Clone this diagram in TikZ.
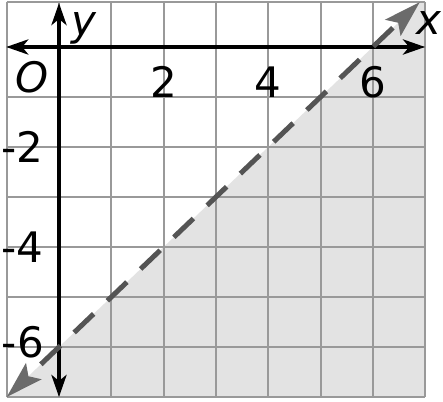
\documentclass[tikz,border=0pt]{standalone}
\usepackage{fontspec}
\setmainfont{DejaVu Sans}
\usetikzlibrary{arrows.meta}
\begin{document}
\begin{tikzpicture}[x=26.15pt,y=25pt,
  gridline/.style={draw=black!40,line width=1pt},
  shade/.style={fill=black!11},
  axisline/.style={line width=2pt,{Stealth[length=11pt,width=7.5pt,inset=3pt]}-{Stealth[length=11pt,width=7.5pt,inset=3pt]}},
  ticklabel/.style={inner sep=0pt,font=\fontsize{21}{21}\selectfont},
  varlabel/.style={inner sep=0pt,font=\fontsize{21}{21}\selectfont\itshape},
  boundary/.style={draw=black!67,line width=2.5pt,dash pattern=on 13.5pt off 9.5pt,dash phase=13.5pt,
    {Stealth[length=18.5pt,width=11pt,inset=3.5pt,color=black!58]}-{Stealth[length=18.5pt,width=11pt,inset=3.5pt,color=black!58]}}
]
\useasboundingbox[fill=white] (-1.128,-7.08) rectangle (7.342,0.94);
% shaded half-plane
\fill[shade] (-1,-7) -- (6.9,0.9) -- (7,0.9) -- (7,-7) -- cycle;
% grid
\foreach \i in {-1,...,7} \draw[gridline] (\i,-7) -- (\i,0.9);
\foreach \j in {-7,...,0} \draw[gridline] (-1,\j) -- (7,\j);
\draw[gridline] (-1,0.9) -- (7,0.9);
% axes
\coordinate (xl) at (-1.01,0);
\coordinate (xr) at (7,0);
\coordinate (yt) at (0,0.88);
\coordinate (yb) at (0,-7);
\draw[axisline] (xl) -- (xr);
\draw[axisline] (yb) -- (yt);
% boundary line y = x - 6
\coordinate (ll) at (-1,-7);
\coordinate (ur) at (6.9,0.9);
\draw[boundary] (ll) -- (ur);
% labels
\node[varlabel,anchor=base] (ylab) at (0.47,0.22) {y};
\node[varlabel,anchor=base] (xlab) at (7.07,0.24) {x};
\node[varlabel,anchor=base] (olab) at (-0.52,-0.9) {O};
\node[ticklabel,anchor=base] (t2) at (2,-1) {2};
\node[ticklabel,anchor=base] (t4) at (4,-1) {4};
\node[ticklabel,anchor=base] (t6) at (6,-1) {6};
\node[ticklabel] (tm2) at (-0.70,-2) {-2};
\node[ticklabel] (tm4) at (-0.70,-4) {-4};
\node[ticklabel] (tm6) at (-0.69,-5.9) {-6};
\end{tikzpicture}
\end{document}
